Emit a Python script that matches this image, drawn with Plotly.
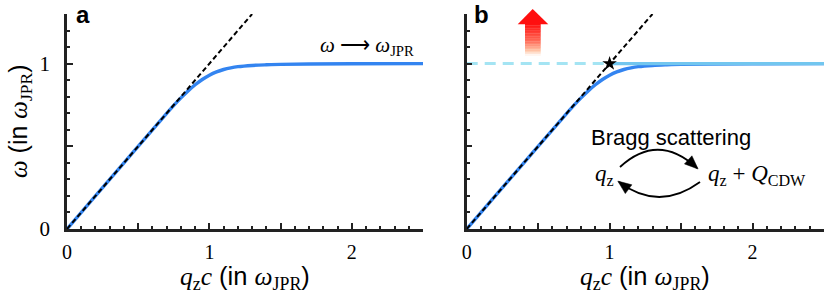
import plotly.graph_objects as go

W, H = 831, 295          # browser window

# ---- data ----
q_vals = [0, 0.2, 0.4, 0.6, 0.7, 0.75, 0.8, 0.85, 0.9, 0.95, 1.0, 1.05, 1.1,
          1.15, 1.2, 1.3, 1.4, 1.5, 1.7, 2.0, 2.5]
omega_vals = [0, 0.2, 0.4, 0.6, 0.699, 0.747, 0.7925, 0.8345, 0.872, 0.904, 0.930,
              0.950, 0.9645, 0.9745, 0.9815, 0.989, 0.993, 0.9955, 0.998, 0.9995, 1.0]
light_q = [0, 1.3]          # light-cone (dashed black) line
light_w = [0, 1.3]
jpr_dash_q = [0, 1.0]       # omega_JPR, dashed part
jpr_dash_w = [1.0, 1.0]
jpr_solid_q = [1.0, 2.5]    # omega_JPR, solid part
jpr_solid_w = [1.0, 1.0]
star_q = [1.0]
star_w = [1.0]
x_tickvals = [0, 0.5, 1, 1.5, 2, 2.5]
x_ticktext = ["0", "", "1", "", "2", ""]
x_minor = [0.1, 0.2, 0.3, 0.4, 0.6, 0.7, 0.8, 0.9, 1.1, 1.2, 1.3, 1.4,
           1.6, 1.7, 1.8, 1.9, 2.1, 2.2, 2.3, 2.4]
y_tickvals = [0, 0.5, 1]
y_ticktext = ["0", "", "1"]
y_minor = [0.1, 0.2, 0.3, 0.4, 0.6, 0.7, 0.8, 0.9, 1.1, 1.2, 1.3]

BLUE = "#3384f0"
LB_DASH = "#a4e4f3"
LB_SOLID = "#72c6ef"
SERIF = "Liberation Serif"
SANS = "Liberation Sans"


def px(x):
    return x / W


def py(y):
    return 1 - y / H


fig = go.Figure()

for xa, ya in [("x", "y"), ("x2", "y2")]:
    fig.add_trace(go.Scatter(x=q_vals, y=omega_vals, mode="lines", line_shape="spline",
                             line=dict(color=BLUE, width=3.4), xaxis=xa, yaxis=ya,
                             showlegend=False, hoverinfo="skip"))
    if xa == "x2":
        fig.add_trace(go.Scatter(x=jpr_dash_q, y=jpr_dash_w, mode="lines",
                                 line=dict(color=LB_DASH, width=3, dash="11px,7px"),
                                 xaxis=xa, yaxis=ya, showlegend=False))
        fig.add_trace(go.Scatter(x=jpr_solid_q, y=jpr_solid_w, mode="lines",
                                 line=dict(color=LB_SOLID, width=3.4),
                                 xaxis=xa, yaxis=ya, showlegend=False))
    fig.add_trace(go.Scatter(x=light_q, y=light_w, mode="lines",
                             line=dict(color="black", width=2, dash="5px,3px"),
                             xaxis=xa, yaxis=ya, showlegend=False))
    if xa == "x2":
        fig.add_trace(go.Scatter(x=star_q, y=star_w, mode="markers",
                                 marker=dict(symbol="star", size=11, color="black"),
                                 xaxis=xa, yaxis=ya, showlegend=False))

TICKC = "#222222"
xax = dict(range=[0, 2.5], showgrid=False, zeroline=False, showline=True, linecolor=TICKC,
           linewidth=2.5, ticks="inside", ticklen=6, tickwidth=2, tickcolor=TICKC,
           tickmode="array", tickvals=x_tickvals, ticktext=x_ticktext, automargin=False,
           tickfont=dict(family=SERIF, size=20, color="black"), ticklabelstandoff=3,
           minor=dict(tickmode="array", tickvals=x_minor, ticks="inside", ticklen=3.5,
                      tickwidth=2, tickcolor=TICKC))
yax = dict(range=[0, 1.3], showgrid=False, zeroline=False, showline=True, linecolor=TICKC,
           linewidth=2.5, ticks="inside", ticklen=6, tickwidth=2, tickcolor=TICKC,
           tickmode="array", tickvals=y_tickvals, ticktext=y_ticktext, automargin=False,
           tickfont=dict(family=SERIF, size=21, color="black"), ticklabelstandoff=10,
           minor=dict(tickmode="array", tickvals=y_minor, ticks="inside", ticklen=3.5,
                      tickwidth=2, tickcolor=TICKC))

ydom = [py(229), py(14)]
fig.update_layout(
    width=W, height=H, margin=dict(l=0, r=0, t=0, b=0, autoexpand=False),
    paper_bgcolor="white", plot_bgcolor="white",
    xaxis=dict(xax, domain=[px(67), px(423)], anchor="y"),
    yaxis=dict(yax, domain=ydom, anchor="x"),
    xaxis2=dict(xax, domain=[px(466.7), px(824)], anchor="y2"),
    yaxis2=dict(yax, domain=ydom, anchor="x2", showticklabels=False),
)

ann = []
def A(text, x, y, size, family=SANS, xanchor="center", yanchor="middle", angle=0):
    ann.append(dict(text=text, x=px(x), y=py(y), xref="paper", yref="paper",
                    showarrow=False, xanchor=xanchor, yanchor=yanchor, textangle=angle,
                    font=dict(family=family, size=size, color="black")))

sp = lambda s: f"<span style=\"font-family:'{SERIF}'\">{s}</span>"
A("<b>a</b>", 83, 15, 24)
A("<b>b</b>", 482, 15, 24)
xtitle = sp("<i>q</i><sub>z</sub><i>c</i>") + " (in " + sp("<i>ω</i><sub>JPR</sub>") + ")"
A(xtitle, 245, 278, 25.5)
A(xtitle, 645, 278, 25.5)
A(sp("<i>ω</i>") + " (in " + sp("<i>ω</i><sub>JPR</sub>") + ")", 20, 121, 25, angle=-90)
A("<i>ω</i> ⟶ <i>ω</i><sub>JPR</sub>", 367, 46, 21, family=SERIF)
A("Bragg scattering", 671, 137, 22)
A("<i>q</i><sub>z</sub>", 604, 175, 23, family=SERIF)
A("<i>q</i><sub>z</sub> + <i>Q</i><sub>CDW</sub>", 757, 175, 23, family=SERIF)
fig.update_layout(annotations=ann)

shapes = []
def P(x, y):
    return f"{px(x):.5f},{py(y):.5f}"

# curved Bragg arrows
for (p0, c, p2) in [((620, 167), (658, 132), (697, 168)),
                    ((700, 182), (659, 212), (619, 182))]:
    shapes.append(dict(type="path", xref="paper", yref="paper",
                       path=f"M {P(*p0)} Q {P(*c)} {P(*p2)}",
                       line=dict(color="black", width=1.8)))
    dx, dy = p2[0] - c[0], p2[1] - c[1]
    n = (dx * dx + dy * dy) ** 0.5
    ux, uy = dx / n, dy / n
    L, w = 12, 5.5
    bx, by = p2[0] - L * ux, p2[1] - L * uy
    a1 = (bx + w * uy, by - w * ux)
    a2 = (bx - w * uy, by + w * ux)
    tip = (p2[0] + 1.5 * ux, p2[1] + 1.5 * uy)
    shapes.append(dict(type="path", xref="paper", yref="paper",
                       path=f"M {P(*tip)} L {P(*a1)} L {P(*a2)} Z",
                       fillcolor="black", line=dict(color="black", width=0.5)))

# red gradient arrow
N = 20
y_top, y_bot = 24, 56
stops = [(0.0, (255, 15, 15)), (0.55, (255, 110, 90)), (0.85, (255, 200, 170)), (1.0, (255, 255, 255))]
def col(t):
    for (t0, c0), (t1, c1) in zip(stops[:-1], stops[1:]):
        if t <= t1:
            f = (t - t0) / (t1 - t0)
            return "rgb(%d,%d,%d)" % tuple(round(a + (b - a) * f) for a, b in zip(c0, c1))
    return "white"
for i in range(N):
    ya0 = y_top + (y_bot - y_top) * i / N
    ya1 = y_top + (y_bot - y_top) * (i + 1) / N
    shapes.append(dict(type="rect", xref="paper", yref="paper",
                       x0=px(525), x1=px(540.7), y0=py(ya1), y1=py(ya0 - 0.3),
                       fillcolor=col((i + 0.5) / N), line=dict(width=0)))
shapes.append(dict(type="path", xref="paper", yref="paper",
                   path=f"M {P(532.7, 9)} L {P(548.3, 24.3)} L {P(517.7, 24.3)} Z",
                   fillcolor="rgb(255,15,15)", line=dict(width=0)))

fig.update_layout(shapes=shapes)
fig.write_html("out.html", config={"displayModeBar": False},
               post_script="document.body.style.margin='0px';document.body.style.overflow='hidden';")
